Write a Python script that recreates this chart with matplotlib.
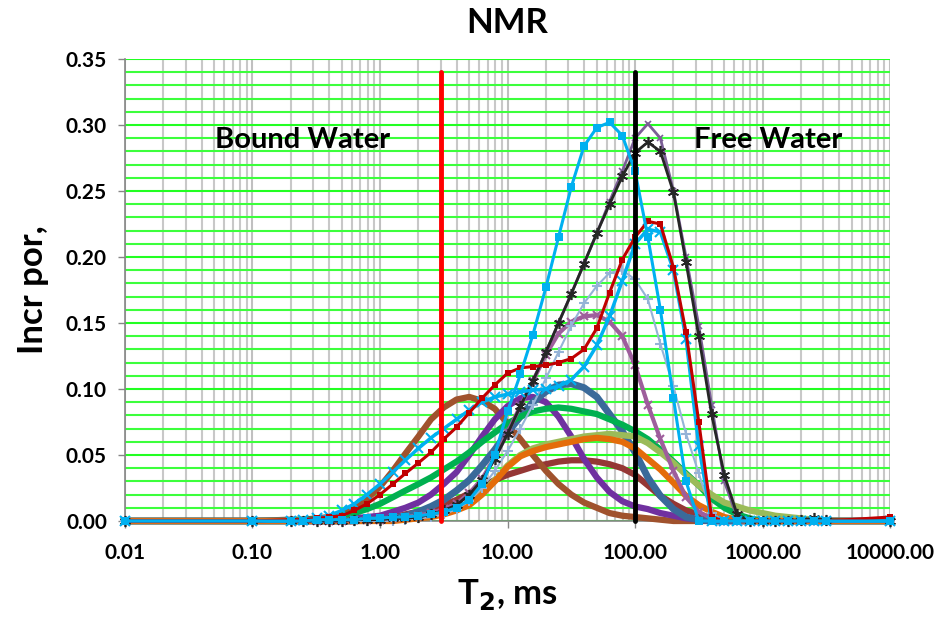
import matplotlib
matplotlib.use("Agg")
import matplotlib.pyplot as plt
from matplotlib.ticker import FixedLocator, LogLocator, NullFormatter, MultipleLocator

plt.rcParams['font.family'] = ['Lato', 'DejaVu Sans']

# ---------------- data ----------------
t2_ms = [0.01, 0.1, 0.2, 0.25, 0.32, 0.4, 0.5, 0.63, 0.79, 1.0,
         1.26, 1.58, 2.0, 2.51, 3.16, 3.98, 5.01, 6.31, 7.94, 10.0,
         12.6, 15.8, 20.0, 25.1, 31.6, 39.8, 50.1, 63.1, 79.4, 100.0,
         126, 158, 200, 251, 316, 398, 501, 631, 794, 1000,
         1259, 1585, 1995, 2512, 3162, 10000]

darkred = [0, 0, 0, 0, 0, 0, 0, 0, 0.001, 0.002,
           0.003, 0.005, 0.007, 0.009, 0.012, 0.016, 0.021, 0.026, 0.031, 0.035,
           0.038, 0.041, 0.043, 0.045, 0.046, 0.046, 0.045, 0.043, 0.040, 0.035,
           0.027, 0.019, 0.013, 0.008, 0.005, 0.002, 0.001, 0, 0, 0,
           0, 0, 0, 0, 0, 0]
brown = [0, 0, 0.001, 0.001, 0.002, 0.003, 0.006, 0.010, 0.017, 0.026,
         0.038, 0.051, 0.064, 0.077, 0.086, 0.092, 0.094, 0.091, 0.085, 0.074,
         0.062, 0.050, 0.038, 0.028, 0.020, 0.014, 0.010, 0.006, 0.004, 0.003,
         0.002, 0.001, 0, 0, 0, 0, 0, 0, 0, 0,
         0, 0, 0, 0, 0, 0]
purple = [0, 0, 0, 0, 0, 0.001, 0.001, 0.002, 0.003, 0.004,
          0.007, 0.010, 0.014, 0.020, 0.028, 0.037, 0.050, 0.064, 0.077, 0.087,
          0.093, 0.094, 0.090, 0.079, 0.064, 0.047, 0.033, 0.022, 0.015, 0.011,
          0.009, 0.006, 0.004, 0.002, 0.001, 0, 0, 0, 0, 0,
          0, 0, 0, 0, 0, 0]
steel = [0, 0, 0, 0, 0, 0, 0, 0, 0.001, 0.001,
         0.002, 0.004, 0.007, 0.011, 0.016, 0.023, 0.031, 0.042, 0.054, 0.067,
         0.079, 0.090, 0.098, 0.103, 0.104, 0.101, 0.094, 0.081, 0.068, 0.052,
         0.033, 0.019, 0.009, 0.003, 0.001, 0, 0, 0, 0, 0,
         0, 0, 0, 0, 0, 0]
green = [0, 0, 0, 0.001, 0.001, 0.002, 0.004, 0.006, 0.009, 0.013,
         0.018, 0.023, 0.028, 0.033, 0.039, 0.045, 0.052, 0.060, 0.067, 0.074,
         0.079, 0.083, 0.085, 0.086, 0.085, 0.083, 0.081, 0.077, 0.073, 0.068,
         0.062, 0.054, 0.045, 0.036, 0.027, 0.017, 0.010, 0.005, 0.002, 0,
         0, 0, 0, 0, 0, 0]
olive = [0, 0, 0, 0, 0, 0, 0, 0, 0, 0.001,
         0.001, 0.002, 0.003, 0.004, 0.006, 0.009, 0.014, 0.021, 0.031, 0.042,
         0.050, 0.055, 0.058, 0.060, 0.062, 0.064, 0.065, 0.066, 0.065, 0.064,
         0.059, 0.052, 0.044, 0.035, 0.027, 0.020, 0.014, 0.011, 0.008, 0.006,
         0.004, 0.003, 0.002, 0.001, 0, 0]
orange = [0, 0, 0, 0, 0, 0, 0, 0, 0, 0,
          0, 0.001, 0.002, 0.003, 0.005, 0.008, 0.012, 0.020, 0.030, 0.041,
          0.049, 0.053, 0.056, 0.058, 0.060, 0.062, 0.063, 0.062, 0.060, 0.055,
          0.047, 0.039, 0.029, 0.019, 0.012, 0.007, 0.003, 0.001, 0, 0,
          0, 0, 0, 0, 0, 0]
mauve_x = [0, 0, 0, 0, 0, 0, 0, 0.001, 0.001, 0.001,
           0.002, 0.003, 0.004, 0.006, 0.009, 0.013, 0.021, 0.032, 0.048, 0.067,
           0.087, 0.106, 0.126, 0.142, 0.151, 0.155, 0.156, 0.151, 0.140, 0.118,
           0.088, 0.062, 0.038, 0.018, 0.007, 0.002, 0, 0, 0, 0,
           0, 0, 0, 0, 0, 0]
lightblue_plus = [0, 0, 0, 0, 0, 0, 0, 0, 0, 0,
                  0, 0.001, 0.002, 0.003, 0.005, 0.009, 0.015, 0.025, 0.038, 0.053,
                  0.070, 0.088, 0.108, 0.128, 0.148, 0.165, 0.178, 0.188, 0.190, 0.183,
                  0.168, 0.134, 0.102, 0.066, 0.036, 0.006, 0, 0, 0, 0,
                  0, 0, 0, 0, 0, 0]
purple_x = [0, 0, 0, 0, 0, 0, 0, 0.001, 0.001, 0.001,
            0.002, 0.002, 0.003, 0.005, 0.008, 0.012, 0.020, 0.031, 0.047, 0.066,
            0.087, 0.106, 0.128, 0.150, 0.172, 0.195, 0.218, 0.242, 0.265, 0.290,
            0.301, 0.290, 0.250, 0.200, 0.148, 0.088, 0.030, 0.003, 0, 0,
            0, 0, 0, 0, 0, 0]
black_star = [0, 0, 0, 0, 0, 0, 0, 0.001, 0.001, 0.001,
              0.002, 0.002, 0.003, 0.005, 0.008, 0.012, 0.020, 0.031, 0.047, 0.066,
              0.087, 0.106, 0.128, 0.150, 0.172, 0.195, 0.218, 0.240, 0.261, 0.279,
              0.287, 0.280, 0.249, 0.196, 0.140, 0.081, 0.035, 0.005, 0, 0,
              0, 0, 0.001, 0.002, 0.001, 0]
cyan_x = [0, 0, 0, 0.001, 0.002, 0.004, 0.008, 0.013, 0.020, 0.028,
          0.037, 0.046, 0.055, 0.063, 0.070, 0.077, 0.084, 0.090, 0.094, 0.096,
          0.098, 0.099, 0.100, 0.102, 0.107, 0.117, 0.133, 0.155, 0.182, 0.210,
          0.221, 0.219, 0.190, 0.138, 0.057, 0, 0, 0, 0, 0,
          0, 0, 0, 0, 0, 0]
red_sq = [0, 0, 0.001, 0.001, 0.002, 0.003, 0.004, 0.008, 0.013, 0.020,
          0.028, 0.036, 0.044, 0.052, 0.062, 0.071, 0.082, 0.093, 0.103, 0.112,
          0.116, 0.117, 0.118, 0.120, 0.123, 0.130, 0.146, 0.173, 0.198, 0.215,
          0.227, 0.225, 0.192, 0.143, 0.075, 0.003, 0, 0, 0, 0,
          0, 0, 0, 0, 0, 0.003]
cyan_sq = [0, 0, 0, 0, 0.001, 0.001, 0.001, 0.001, 0.002, 0.002,
           0.003, 0.003, 0.004, 0.005, 0.007, 0.010, 0.016, 0.028, 0.050, 0.083,
           0.111, 0.141, 0.177, 0.215, 0.253, 0.284, 0.298, 0.302, 0.292, 0.265,
           0.215, 0.160, 0.093, 0.030, 0, 0, 0, 0, 0, 0,
           0, 0, 0, 0, 0, 0]

cutoff_t2 = [3.0, 100.0]          # bound / free water cutoffs
cutoff_y = [0.0, 0.34]
x_ticks = [0.01, 0.1, 1, 10, 100, 1000, 10000]
x_ticklabels = ["0.01", "0.10", "1.00", "10.00", "100.00", "1000.00", "10000.00"]
y_ticks = [0.00, 0.05, 0.10, 0.15, 0.20, 0.25, 0.30, 0.35]

# ---------------- figure ----------------
fig = plt.figure(figsize=(9.34, 6.17), dpi=100)
ax = fig.add_axes([0.1338, 0.1556, 0.8192, 0.7488])
ax.set_xscale('log')
ax.set_xlim(0.01, 10000)
ax.set_ylim(0, 0.35)

# grid
ax.xaxis.set_major_locator(FixedLocator(x_ticks))
ax.xaxis.set_minor_locator(LogLocator(base=10, subs=range(2, 10), numticks=20))
ax.xaxis.set_minor_formatter(NullFormatter())
ax.yaxis.set_major_locator(FixedLocator(y_ticks))
ax.yaxis.set_minor_locator(MultipleLocator(0.01))
ax.grid(which='major', axis='x', color='#C0C0C0', lw=1.5, zorder=0)
ax.grid(which='minor', axis='x', color='#C8C8C8', lw=1.5, zorder=0)
ax.grid(which='major', axis='y', color='#22FF22', lw=1.5, zorder=0)
ax.grid(which='minor', axis='y', color='#3CFF3C', lw=1.5, zorder=0)
ax.set_axisbelow(True)
ax.tick_params(which='minor', length=0)
ax.tick_params(which='major', length=5, color='#868686', width=1)
for s in ['top', 'right']:
    ax.spines[s].set_visible(False)
for s in ['left', 'bottom']:
    ax.spines[s].set_color('#868686')
    ax.spines[s].set_linewidth(1.2)

ax.set_xticklabels(x_ticklabels)
ax.set_yticklabels([f"{v:.2f}" for v in y_ticks])
for lab in ax.get_xticklabels() + ax.get_yticklabels():
    lab.set_fontweight('bold')
    lab.set_fontsize(15)
ax.tick_params(axis='x', pad=11)
ax.tick_params(axis='y', pad=8)

# series (bottom to top)
bands = [
    (darkred, '#953735', 4.5),
    (brown, '#A0522D', 4.5),
    (purple, '#7030A0', 4.5),
    (steel, '#3A6A9A', 5.0),
    (green, '#00B050', 4.5),
    (olive, '#9BBB59', 4.5),
    (orange, '#E46C0A', 4.5),
]
for vals, col, lw in bands:
    ax.plot(t2_ms, vals, color=col, lw=lw, solid_capstyle='butt', zorder=3, clip_on=False)

ax.plot(t2_ms, mauve_x, color='#9E5E9C', lw=3.0, marker='x', ms=6, mew=1.5, zorder=4, clip_on=False)
ax.plot(t2_ms, lightblue_plus, color='#95B3D7', lw=1.5, marker='+', ms=7, mew=1.5, zorder=4, clip_on=False)
ax.plot(t2_ms, purple_x, color='#7B5E96', lw=2.0, marker='x', ms=5, mew=1.2, zorder=5, clip_on=False)
ax.plot(t2_ms, black_star, color='#262626', lw=2.0, marker=(6, 2, 0), ms=8, mew=1.2, zorder=5, clip_on=False)
ax.plot(t2_ms, cyan_x, color='#00B0F0', lw=2.5, marker='x', ms=7, mew=1.5, zorder=6, clip_on=False)
ax.plot(t2_ms, red_sq, color='#C00000', lw=2.2, marker='s', ms=4, mew=0, zorder=6, clip_on=False)
ax.plot(t2_ms, cyan_sq, color='#00B0F0', lw=2.2, marker='s', ms=5.5, mew=0, zorder=7, clip_on=False)

# cutoffs
ax.plot([cutoff_t2[0]] * 2, cutoff_y, color='#FF0000', lw=3.5, solid_capstyle='round', zorder=8, clip_on=False)
ax.plot([cutoff_t2[1]] * 2, cutoff_y, color='#000000', lw=3.5, solid_capstyle='round', zorder=8, clip_on=False)

ax.text(0.232, 0.825, 'Bound Water', transform=ax.transAxes, ha='center', va='center',
        fontsize=21, fontweight='bold', zorder=9)
ax.text(0.84, 0.825, 'Free Water', transform=ax.transAxes, ha='center', va='center',
        fontsize=21, fontweight='bold', zorder=9)

ax.set_title('NMR', fontsize=25, fontweight='bold', pad=19)
ax.set_xlabel('T$_\\mathbf{2}$, ms', fontsize=25, fontweight='bold', labelpad=10)
ax.set_ylabel('Incr por,', fontsize=25, fontweight='bold', labelpad=12)

fig.savefig('out.png', dpi=100)
